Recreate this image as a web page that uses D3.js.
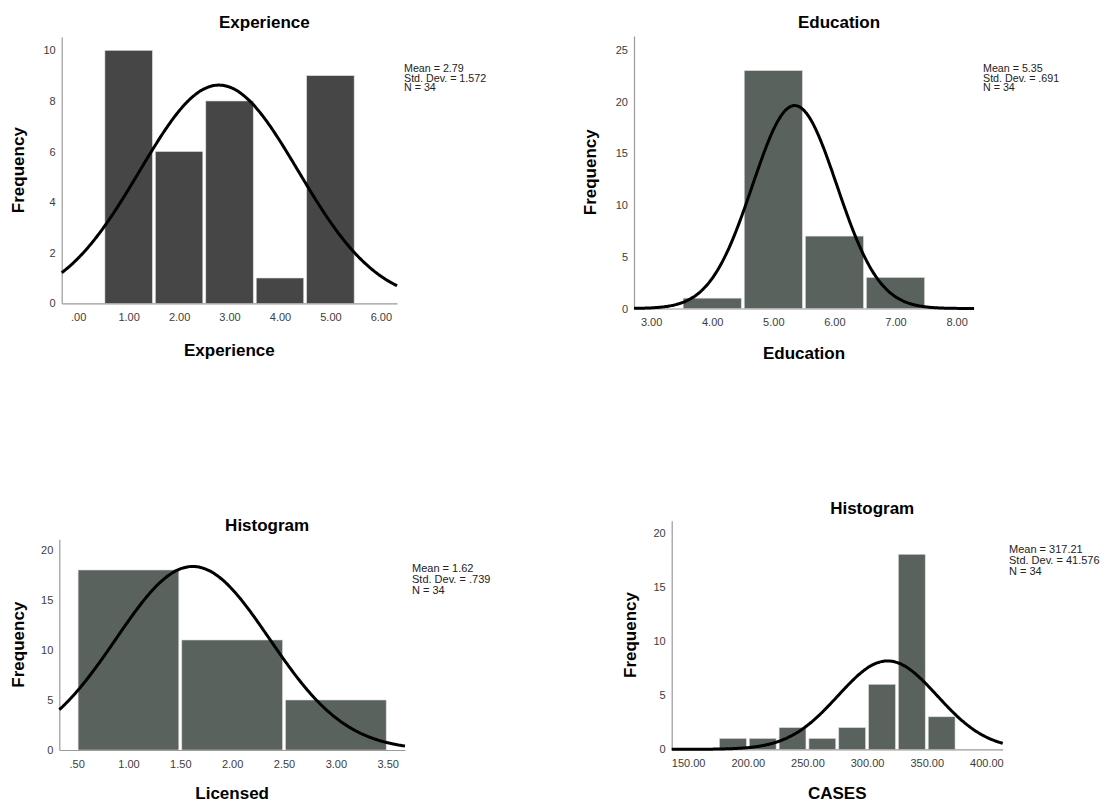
<!DOCTYPE html>
<html>
<head>
<meta charset="utf-8">
<script src="https://cdn.jsdelivr.net/npm/d3@7"></script>
<style>
  html, body { margin: 0; padding: 0; background: #fff; }
  svg { display: block; }
  text { font-family: "Liberation Sans", Arial, Helvetica, sans-serif; }
</style>
</head>
<body>
<svg id="chart" width="1105" height="802"></svg>
<script>
// ---- Experience ----
const expBinStarts = [0.5, 1.5, 2.5, 3.5, 4.5];
const expCounts = [10, 6, 8, 1, 9];
const expStats = { mean: 2.79, sd: 1.572, n: 34 };
const expXTicks = [0, 1, 2, 3, 4, 5, 6];
const expYTicks = [0, 2, 4, 6, 8, 10];

// ---- Education ----
const eduBinStarts = [3.5, 4.5, 5.5, 6.5];
const eduCounts = [1, 23, 7, 3];
const eduStats = { mean: 5.35, sd: 0.691, n: 34 };
const eduXTicks = [3, 4, 5, 6, 7, 8];
const eduYTicks = [0, 5, 10, 15, 20, 25];

// ---- Licensed ----
const licBinStarts = [0.5, 1.5, 2.5];
const licCounts = [18, 11, 5];
const licStats = { mean: 1.62, sd: 0.739, n: 34 };
const licXTicks = [0.5, 1, 1.5, 2, 2.5, 3, 3.5];
const licYTicks = [0, 5, 10, 15, 20];

// ---- CASES ----
const casesBinStarts = [175, 200, 225, 250, 275, 300, 325, 350];
const casesCounts = [1, 1, 2, 1, 2, 6, 18, 3];
const casesStats = { mean: 317.21, sd: 41.576, n: 34 };
const casesXTicks = [150, 200, 250, 300, 350, 400];
const casesYTicks = [0, 5, 10, 15, 20];

const statLabels = ["Mean = ", "Std. Dev. = ", "N = "];

// SPSS style numbers: two decimals, no leading zero
const fmt2 = v => d3.format(".2f")(v).replace(/^0\./, ".");
const fmtStat = (v, d) => d3.format("." + d + "f")(v).replace(/^0\./, ".");

const svg = d3.select("#chart");

const panels = [
  { title: "Experience", xLabel: "Experience",
    bins: expBinStarts, counts: expCounts, width: 1, stats: expStats, sdDigits: 3,
    xTicks: expXTicks, yTicks: expYTicks,
    box: { l: 61.7, r: 397, t: 37, b: 303.3 }, xDom: [-0.327, 6.32], yMax: 10.53,
    fill: "#464646", titleY: 28, xLabelY: 355.5, yLabelX: 24,
    statX: 404, statY: 71.7, statFont: 10.7, statGap: 9.8 },
  { title: "Education", xLabel: "Education",
    bins: eduBinStarts, counts: eduCounts, width: 1, stats: eduStats, sdDigits: 3,
    xTicks: eduXTicks, yTicks: eduYTicks,
    box: { l: 634, r: 974, t: 36, b: 308.5 }, xDom: [2.72, 8.285], yMax: 26.35,
    fill: "#59625c", titleY: 28, xLabelY: 359, yLabelX: 596,
    statX: 983, statY: 71.7, statFont: 10.7, statGap: 9.8 },
  { title: "Histogram", xLabel: "Licensed",
    bins: licBinStarts, counts: licCounts, width: 1, stats: licStats, sdDigits: 3,
    xTicks: licXTicks, yTicks: licYTicks,
    box: { l: 59.3, r: 405, t: 539.3, b: 750 }, xDom: [0.333, 3.667], yMax: 21.07,
    fill: "#59625c", titleY: 530.5, xLabelY: 799, yLabelX: 24,
    statX: 412, statY: 571.5, statFont: 11, statGap: 11.2 },
  { title: "Histogram", xLabel: "CASES",
    bins: casesBinStarts, counts: casesCounts, width: 25, stats: casesStats, sdDigits: 3,
    xTicks: casesXTicks, yTicks: casesYTicks,
    box: { l: 671.7, r: 1002.7, t: 520.7, b: 749.3 }, xDom: [136.2, 413.7], yMax: 21.1,
    fill: "#59625c", titleY: 514, xLabelY: 799, yLabelX: 636,
    statX: 1009, statY: 552.7, statFont: 11, statGap: 11.2 }
];

panels.forEach(p => {
  const g = svg.append("g");
  const x = d3.scaleLinear().domain(p.xDom).range([p.box.l, p.box.r]);
  const y = d3.scaleLinear().domain([0, p.yMax]).range([p.box.b, p.box.t]);

  // bars
  g.selectAll("rect.bar")
    .data(p.bins.map((s, i) => ({ s, e: s + p.width, c: p.counts[i] })))
    .join("rect")
    .attr("class", "bar")
    .attr("x", d => x(d.s) + 1.5)
    .attr("width", d => x(d.e) - x(d.s) - 3)
    .attr("y", d => y(d.c))
    .attr("height", d => y(0) - y(d.c))
    .attr("fill", p.fill)
    .attr("stroke", "#d8d8d8")
    .attr("stroke-width", 0.6);

  // axes
  const xAxis = d3.axisBottom(x).tickValues(p.xTicks).tickFormat(fmt2).tickSize(0).tickPadding(10);
  const yAxis = d3.axisLeft(y).tickValues(p.yTicks).tickFormat(d3.format("d")).tickSize(0).tickPadding(6);

  const gx = g.append("g").attr("transform", `translate(0,${p.box.b})`).call(xAxis);
  const gy = g.append("g").attr("transform", `translate(${p.box.l},0)`).call(yAxis);
  [gx, gy].forEach(a => {
    a.select(".domain").attr("stroke", "#9a9a9a").attr("stroke-width", 1.2);
    a.selectAll("text").attr("fill", "#3c3c3c").style("font-size", "11px")
      .style("font-family", "'Liberation Sans', Arial, sans-serif");
  });

  // normal curve scaled to counts
  const { mean, sd, n } = p.stats;
  const pts = d3.range(0, 301).map(i => {
    const v = p.xDom[0] + (p.xDom[1] - p.xDom[0]) * i / 300;
    const dens = Math.exp(-0.5 * ((v - mean) / sd) ** 2) / (sd * Math.sqrt(2 * Math.PI));
    return [v, dens * n * p.width];
  });
  g.append("path")
    .datum(pts)
    .attr("fill", "none")
    .attr("stroke", "#000")
    .attr("stroke-width", 3)
    .attr("d", d3.line().x(d => x(d[0])).y(d => y(d[1])).curve(d3.curveBasis));

  // title
  const cx = (p.box.l + p.box.r) / 2;
  g.append("text")
    .attr("x", cx + 35).attr("y", p.titleY)
    .attr("text-anchor", "middle")
    .style("font-size", "17px").style("font-weight", "bold")
    .text(p.title);

  // x label
  g.append("text")
    .attr("x", cx).attr("y", p.xLabelY)
    .attr("text-anchor", "middle")
    .style("font-size", "17px").style("font-weight", "bold")
    .text(p.xLabel);

  // y label
  const cy = (p.box.t + p.box.b) / 2;
  g.append("text")
    .attr("transform", `translate(${p.yLabelX},${cy}) rotate(-90)`)
    .attr("text-anchor", "middle")
    .style("font-size", "17px").style("font-weight", "bold")
    .text("Frequency");

  // summary statistics
  const statVals = [fmtStat(mean, 2), fmtStat(sd, p.sdDigits), String(n)];
  g.selectAll("text.stat")
    .data(statLabels.map((l, i) => l + statVals[i]))
    .join("text")
    .attr("class", "stat")
    .attr("x", p.statX)
    .attr("y", (d, i) => p.statY + i * p.statGap)
    .attr("fill", "#222")
    .style("font-size", p.statFont + "px")
    .text(d => d);
});
</script>
</body>
</html>
